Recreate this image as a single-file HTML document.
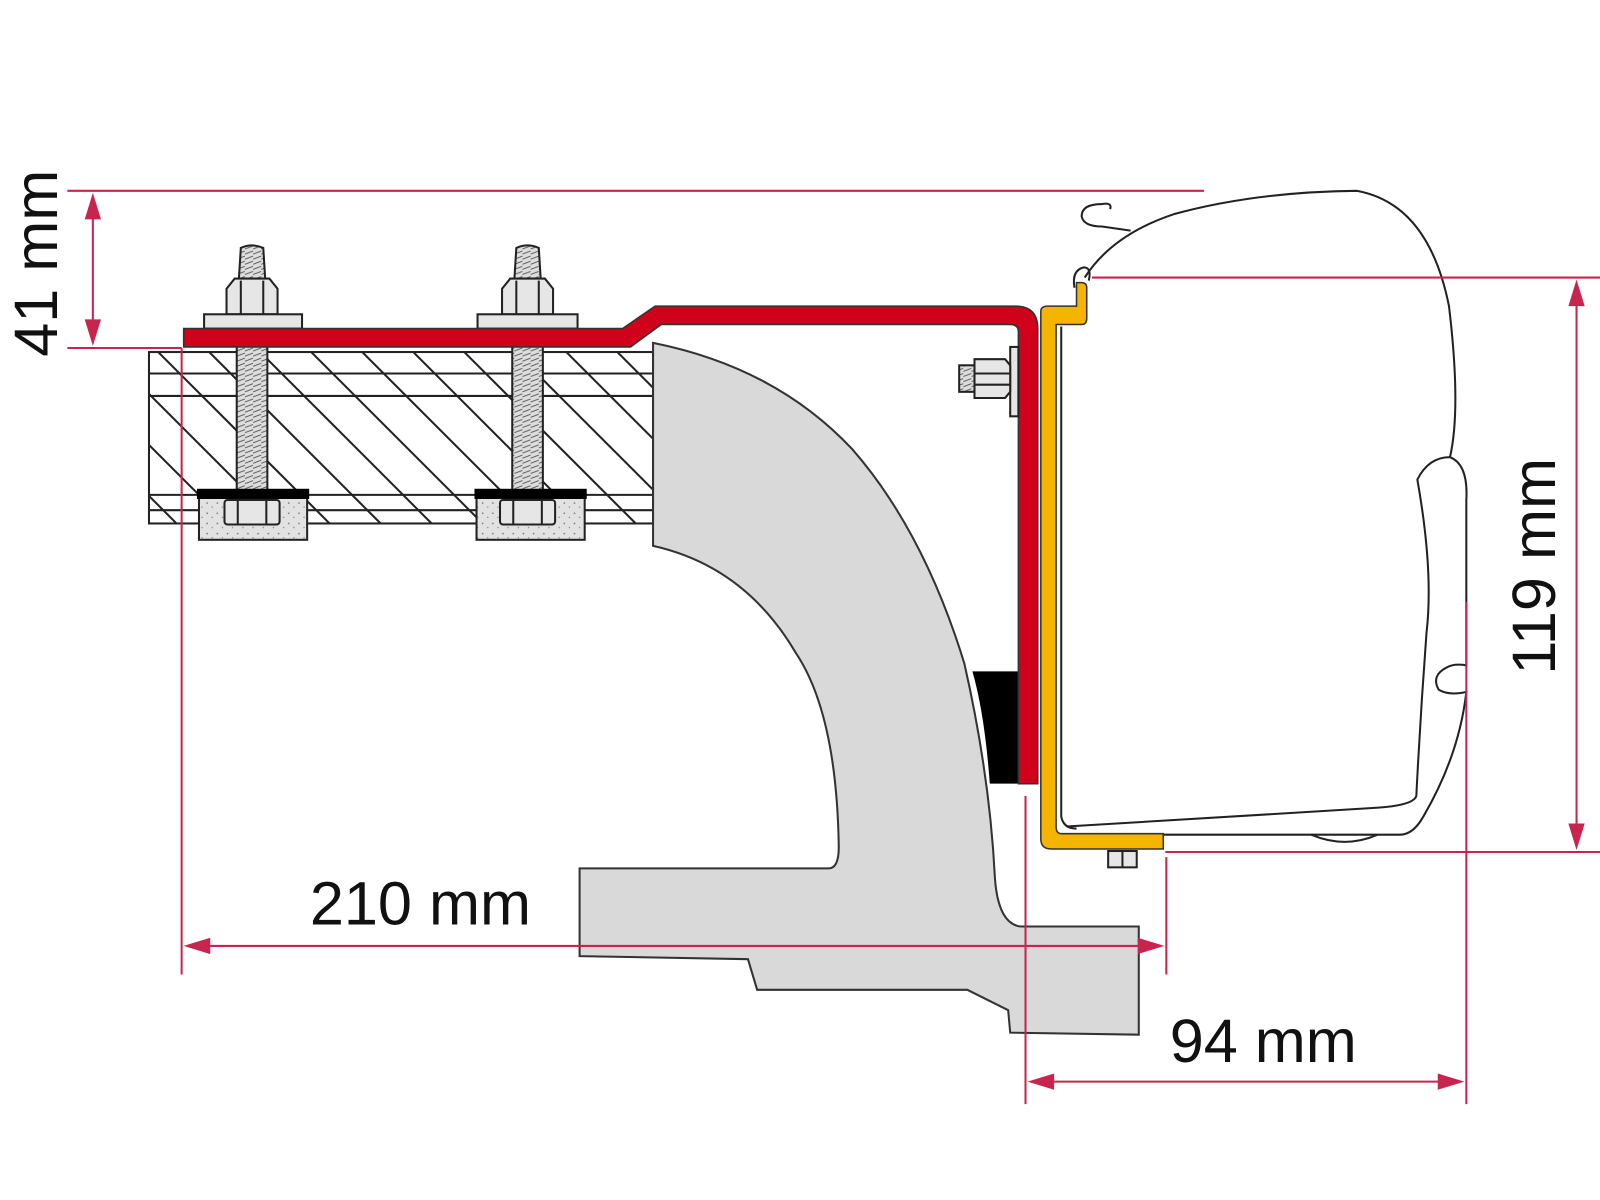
<!DOCTYPE html>
<html><head><meta charset="utf-8"><style>
html,body{margin:0;padding:0;background:#fff;}
svg{display:block;}
text{font-family:"Liberation Sans",sans-serif;fill:#111;}
</style></head><body>
<svg width="1600" height="1200" viewBox="0 0 1568 1176" xmlns="http://www.w3.org/2000/svg">
<defs>
<clipPath id="board"><rect x="146" y="345" width="494" height="168"/></clipPath>
<pattern id="thr" width="8" height="5" patternUnits="userSpaceOnUse"><rect width="8" height="5" fill="#ddd"/><line x1="0" y1="4" x2="8" y2="1" stroke="#555" stroke-width="1"/></pattern>
<pattern id="dots" width="10" height="10" patternUnits="userSpaceOnUse"><rect width="10" height="10" fill="#e2e2e2"/><circle cx="3" cy="3" r="0.8" fill="#777"/><circle cx="8" cy="7" r="0.7" fill="#888"/></pattern>
</defs>

<g clip-path="url(#board)">
<rect x="146" y="345" width="494" height="168" fill="#fff"/>
<g stroke="#222" stroke-width="2">
<line x1="100" y1="340" x2="300" y2="540"/><line x1="150" y1="340" x2="350" y2="540"/>
<line x1="200" y1="340" x2="400" y2="540"/><line x1="250" y1="340" x2="450" y2="540"/>
<line x1="300" y1="340" x2="500" y2="540"/><line x1="350" y1="340" x2="550" y2="540"/>
<line x1="400" y1="340" x2="600" y2="540"/><line x1="450" y1="340" x2="650" y2="540"/>
<line x1="500" y1="340" x2="700" y2="540"/><line x1="550" y1="340" x2="750" y2="540"/>
<line x1="600" y1="340" x2="800" y2="540"/><line x1="50" y1="340" x2="250" y2="540"/>
<line x1="0" y1="340" x2="200" y2="540"/>
</g>
<g stroke="#222" stroke-width="2">
<line x1="140" y1="366" x2="640" y2="366"/><line x1="140" y1="388" x2="640" y2="388"/>
<line x1="140" y1="485" x2="640" y2="485"/><line x1="140" y1="500" x2="640" y2="500"/>
</g>
</g>
<rect x="146" y="345" width="494" height="168" fill="none" stroke="#222" stroke-width="2"/>

<g stroke="#222" stroke-width="2">
<rect x="232" y="335" width="30" height="150" fill="url(#thr)"/>
<rect x="502" y="335" width="30" height="150" fill="url(#thr)"/>
<path d="M234 275 L236 243 Q247 238 258 243 L260 275 Z" fill="url(#thr)"/>
<path d="M504 275 L506 243 Q517 238 528 243 L530 275 Z" fill="url(#thr)"/>
<path d="M222 308 L222 283 L230 273 L264 273 L272 283 L272 308 Z" fill="#e6e6e6"/>
<line x1="236" y1="275" x2="236" y2="308"/><line x1="258" y1="275" x2="258" y2="308"/>
<path d="M492 308 L492 283 L500 273 L534 273 L542 283 L542 308 Z" fill="#e6e6e6"/>
<line x1="506" y1="275" x2="506" y2="308"/><line x1="528" y1="275" x2="528" y2="308"/>
<rect x="200" y="308" width="96" height="14" fill="#e6e6e6"/>
<rect x="468" y="308" width="98" height="14" fill="#e6e6e6"/>
<rect x="195" y="483" width="106" height="46" fill="url(#dots)"/>
<rect x="467" y="483" width="106" height="46" fill="url(#dots)"/>
</g>
<rect x="193" y="479" width="110" height="10" fill="#000"/>
<rect x="465" y="479" width="110" height="10" fill="#000"/>
<g stroke="#222" stroke-width="2" fill="#e6e6e6">
<rect x="220" y="490" width="54" height="24" rx="3"/><line x1="233" y1="490" x2="233" y2="514"/><line x1="261" y1="490" x2="261" y2="514"/>
<rect x="490" y="490" width="54" height="24" rx="3"/><line x1="503" y1="490" x2="503" y2="514"/><line x1="531" y1="490" x2="531" y2="514"/>
</g>

<path d="M640 336 Q760 360 835 440 Q905 520 945 650 Q970 760 975 860 Q978 905 1000 908 L1116 908 L1116 1014 L990 1012 L988 990 L948 970 L742 970 L733 940 L568 937 L568 851 L812 851 Q822 851 822 830 Q820 700 780 640 Q730 555 640 535 Z" fill="#d9d9d9" stroke="#333" stroke-width="2"/>

<path d="M953 658 L998 658 L998 768 L970 768 Q965 700 953 658 Z" fill="#000"/>

<path d="M180 322 L610 322 L642 300 L995 300 Q1017 300 1017 322 L1017 768 L998 768 L998 325 Q998 318 990 318 L648 318 L618 340 L180 340 Z" fill="#d0021b" stroke="#333" stroke-width="1.5"/>

<g stroke="#222" stroke-width="2" fill="#e6e6e6">
<rect x="990" y="340" width="8" height="68"/>
<path d="M955 352 L985 352 L990 358 L990 384 L985 390 L955 390 Z"/>
<rect x="940" y="358" width="15" height="26" fill="url(#thr)"/>
<line x1="955" y1="366" x2="990" y2="366"/><line x1="955" y1="377" x2="990" y2="377"/>
</g>

<g fill="none" stroke="#222" stroke-width="2">
<path d="M1063 272 Q1090 230 1150 210 Q1230 188 1330 187 Q1400 200 1420 300 Q1432 400 1421 448 Q1439 455 1437 490 L1437 652 Q1425 650 1418 654 Q1402 662 1410 676 Q1420 682 1437 678 Q1430 740 1395 800 Q1385 818 1372 818 L1042 818"/>
<path d="M1421 448 Q1400 448 1389 470 Q1405 560 1398 620 Q1392 700 1388 780 Q1385 790 1343 792 L1045 810"/>
<path d="M1285 818 Q1318 832 1350 818"/>
<path d="M1040 320 L1040 800 Q1042 812 1055 812"/>
<path d="M1053 282 Q1050 265 1062 262 Q1070 262 1067 275"/>
<path d="M1080 200 Q1060 200 1060 212 Q1062 222 1080 222 L1108 226"/>
<path d="M1080 200 Q1090 198 1088 205" />
</g>

<path d="M1020 305 L1020 822 Q1020 832 1030 832 L1140 832 L1140 817 L1040 817 Q1035 817 1035 810 L1035 318 L1060 318 Q1065 318 1065 312 L1065 282 Q1065 277 1060 277 L1055 277 L1055 300 L1027 300 Q1020 300 1020 305 Z" fill="#f5b400" stroke="#333" stroke-width="1.5"/>
<g stroke="#222" stroke-width="2" fill="#e6e6e6"><rect x="1086" y="834" width="28" height="16"/><line x1="1100" y1="834" x2="1100" y2="850"/></g>

<g stroke="#c8244f" stroke-width="2" fill="none">
<line x1="66" y1="187" x2="1180" y2="187"/>
<line x1="66" y1="341" x2="178" y2="341"/>
<line x1="91" y1="195" x2="91" y2="333"/>
<line x1="1070" y1="272" x2="1568" y2="272"/>
<line x1="1142" y1="835" x2="1568" y2="835"/>
<line x1="1545" y1="280" x2="1545" y2="828"/>
<line x1="178" y1="341" x2="178" y2="955"/>
<line x1="1143" y1="840" x2="1143" y2="955"/>
<line x1="185" y1="927" x2="1136" y2="927"/>
<line x1="1005" y1="780" x2="1005" y2="1082"/>
<line x1="1437" y1="590" x2="1437" y2="1082"/>
<line x1="1012" y1="1060" x2="1430" y2="1060"/>
</g>
<g fill="#c8244f">
<path d="M91 189 L83 215 L99 215 Z"/><path d="M91 339 L83 313 L99 313 Z"/>
<path d="M1545 274 L1537 300 L1553 300 Z"/><path d="M1545 833 L1537 807 L1553 807 Z"/>
<path d="M180 927 L206 919 L206 935 Z"/><path d="M1141 927 L1115 919 L1115 935 Z"/>
<path d="M1007 1060 L1033 1052 L1033 1068 Z"/><path d="M1435 1060 L1409 1052 L1409 1068 Z"/>
</g>

<text x="0" y="0" font-size="60" text-anchor="middle" transform="translate(56 258) rotate(-90)">41 mm</text>
<text x="0" y="0" font-size="60" text-anchor="middle" transform="translate(1524 555) rotate(-90)">119 mm</text>
<text x="412" y="906" font-size="60" text-anchor="middle">210 mm</text>
<text x="1238" y="1041" font-size="60" text-anchor="middle">94 mm</text>
</svg>
</body></html>
